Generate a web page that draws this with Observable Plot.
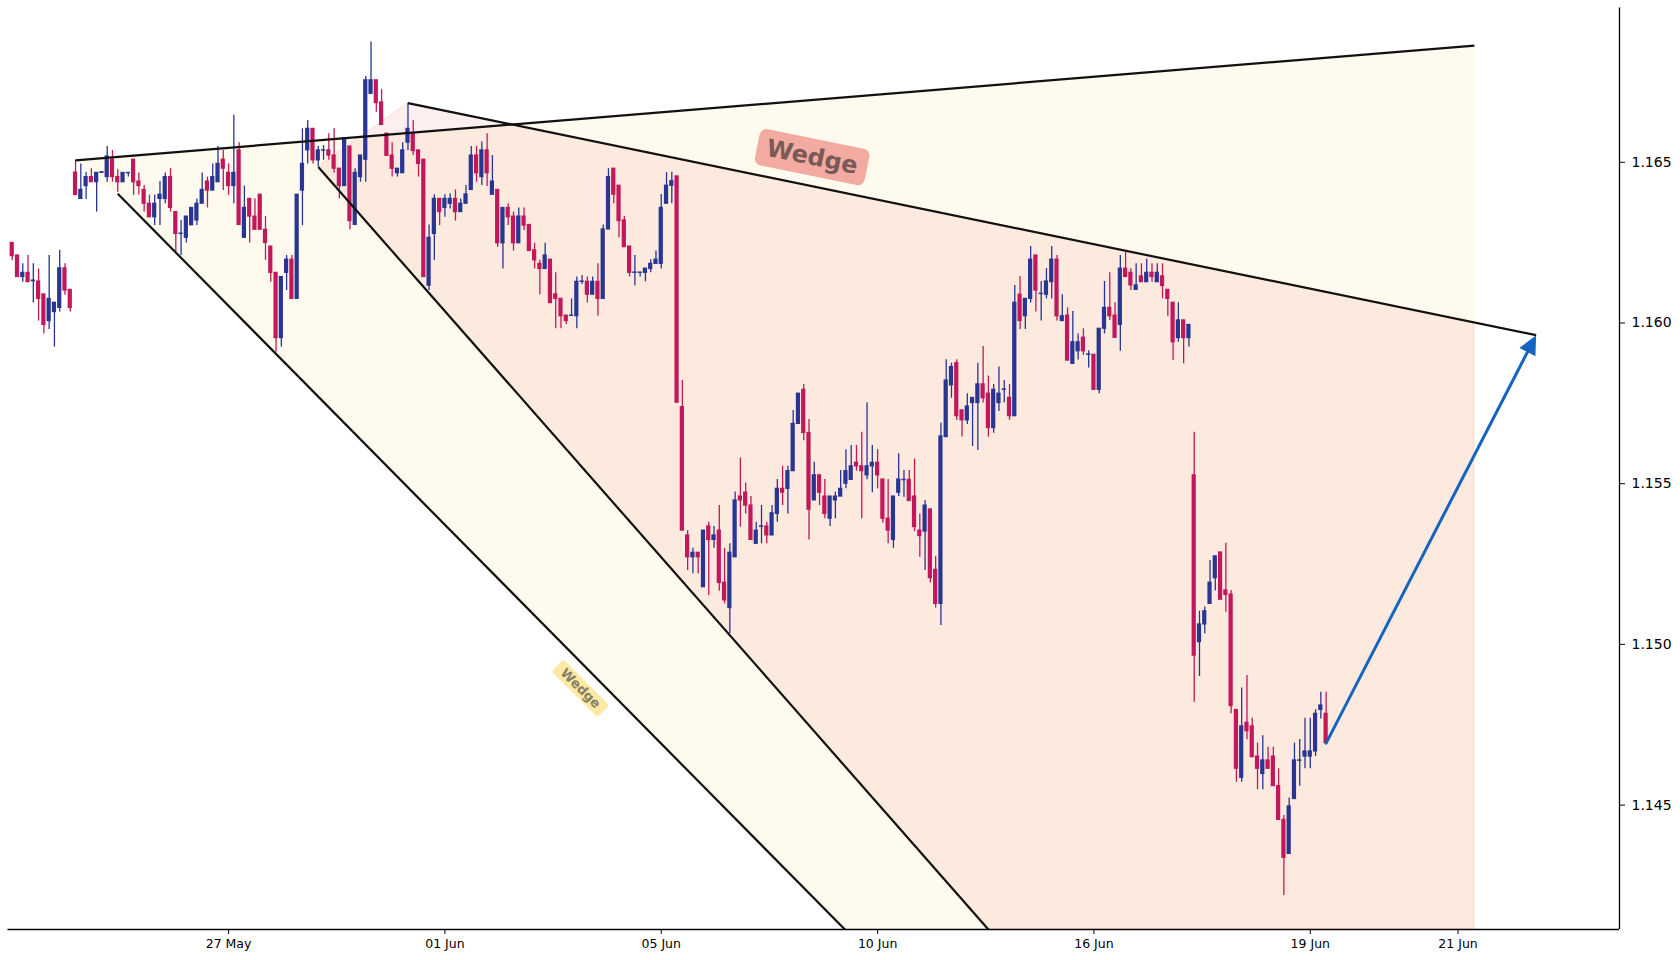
<!DOCTYPE html>
<html><head><meta charset="utf-8">
<script src="https://cdn.jsdelivr.net/npm/d3@7"></script>
<script src="https://cdn.jsdelivr.net/npm/@observablehq/plot@0.6"></script>
<style>
html,body{margin:0;padding:0;background:#fff;}
#chart{width:1680px;height:960px;overflow:hidden;}
</style></head><body><div id="chart"></div>
<script>
const opens = [
1.16249,1.16210,1.16143,1.16156,1.16130,1.16129,1.16089,1.16006,1.16034,1.16047,
1.16170,1.16103,1.16468,1.16386,1.16426,1.16454,1.16438,1.16467,1.16454,1.16508,
1.16454,1.16438,1.16466,1.16508,1.16440,1.16414,1.16371,1.16329,1.16386,1.16386,
1.16454,1.16345,1.16277,1.16265,1.16304,1.16319,1.16371,1.16440,1.16412,1.16438,
1.16508,1.16467,1.16426,1.16537,1.16265,1.16386,1.16331,1.16399,1.16290,1.16238,
1.16156,1.15953,1.16156,1.16197,1.16075,1.16412,1.16537,1.16604,1.16506,1.16536,
1.16537,1.16521,1.16480,1.16426,1.16549,1.16305,1.16454,1.16508,1.16713,1.16755,
1.16686,1.16589,1.16521,1.16466,1.16466,1.16561,1.16589,1.16537,1.16508,1.16116,
1.16277,1.16386,1.16358,1.16371,1.16386,1.16345,1.16371,1.16414,1.16521,1.16454,
1.16537,1.16399,1.16414,1.16248,1.16358,1.16331,1.16248,1.16331,1.16305,1.16226,
1.16184,1.16168,1.16197,1.16089,1.16075,1.16023,1.16022,1.16021,1.16128,1.16128,
1.16088,1.16128,1.16075,1.16291,1.16480,1.16427,1.16319,1.16238,1.16156,1.16156,
1.16156,1.16168,1.16184,1.16184,1.16371,1.16427,1.16456,1.15738,1.15339,1.15271,
1.15285,1.15178,1.15367,1.15325,1.15354,1.15192,1.15113,1.15271,1.15460,1.15472,
1.15432,1.15313,1.15366,1.15367,1.15339,1.15406,1.15484,1.15484,1.15539,1.15686,
1.15792,1.15658,1.15448,1.15526,1.15460,1.15391,1.15448,1.15460,1.15500,1.15512,
1.15565,1.15554,1.15526,1.15554,1.15565,1.15513,1.15391,1.15325,1.15472,1.15511,
1.15512,1.15460,1.15354,1.15351,1.15420,1.15232,1.15126,1.15645,1.15806,1.15875,
1.15728,1.15697,1.15751,1.15751,1.15809,1.15780,1.15673,1.15751,1.15792,1.15767,
1.15710,1.16088,1.16021,1.16075,1.16210,1.16090,1.16088,1.16127,1.16197,1.16006,
1.16023,1.15873,1.15912,1.15954,1.15901,1.15901,1.15792,1.15982,1.16047,1.16023,
1.15994,1.16169,1.16156,1.16103,1.16145,1.16127,1.16156,1.16127,1.16145,1.16103,
1.16063,1.15953,1.16008,1.15953,1.15526,1.15007,1.15062,1.15126,1.15206,1.15286,
1.15168,1.15155,1.14796,1.14585,1.14756,1.14745,1.14651,1.14597,1.14639,1.14651,
1.14559,1.14454,1.14348,1.14519,1.14638,1.14651,1.14651,1.14667,1.14796,1.14784];
const highs = [
1.16249,1.16210,1.16184,1.16210,1.16184,1.16168,1.16089,1.16210,1.16063,1.16226,
1.16184,1.16103,1.16506,1.16495,1.16469,1.16480,1.16467,1.16470,1.16549,1.16537,
1.16477,1.16467,1.16467,1.16508,1.16467,1.16428,1.16398,1.16398,1.16440,1.16467,
1.16480,1.16345,1.16319,1.16331,1.16358,1.16386,1.16467,1.16454,1.16495,1.16549,
1.16537,1.16495,1.16646,1.16561,1.16426,1.16386,1.16386,1.16399,1.16331,1.16238,
1.16156,1.16143,1.16210,1.16210,1.16399,1.16604,1.16630,1.16604,1.16549,1.16552,
1.16589,1.16604,1.16480,1.16575,1.16549,1.16480,1.16521,1.16767,1.16874,1.16755,
1.16726,1.16589,1.16561,1.16480,1.16561,1.16684,1.16630,1.16537,1.16508,1.16305,
1.16399,1.16386,1.16399,1.16402,1.16414,1.16386,1.16428,1.16549,1.16549,1.16563,
1.16589,1.16521,1.16414,1.16358,1.16371,1.16345,1.16358,1.16358,1.16305,1.16248,
1.16195,1.16248,1.16197,1.16156,1.16075,1.16023,1.16075,1.16143,1.16148,1.16143,
1.16143,1.16184,1.16305,1.16480,1.16480,1.16427,1.16331,1.16238,1.16210,1.16157,
1.16169,1.16197,1.16224,1.16400,1.16468,1.16469,1.16456,1.15821,1.15354,1.15299,
1.15285,1.15354,1.15380,1.15367,1.15432,1.15299,1.15313,1.15474,1.15580,1.15502,
1.15460,1.15380,1.15432,1.15380,1.15432,1.15513,1.15554,1.15554,1.15728,1.15780,
1.15809,1.15700,1.15567,1.15526,1.15513,1.15460,1.15474,1.15541,1.15606,1.15619,
1.15619,1.15660,1.15752,1.15619,1.15606,1.15513,1.15513,1.15460,1.15593,1.15541,
1.15541,1.15577,1.15406,1.15448,1.15420,1.15274,1.15688,1.15886,1.15875,1.15886,
1.15728,1.15780,1.15767,1.15875,1.15927,1.15835,1.15809,1.15863,1.15821,1.15809,
1.16117,1.16145,1.16075,1.16238,1.16210,1.16129,1.16169,1.16238,1.16210,1.16088,
1.16047,1.16036,1.15966,1.15982,1.15914,1.15901,1.15982,1.16129,1.16156,1.16063,
1.16210,1.16220,1.16169,1.16184,1.16184,1.16198,1.16184,1.16184,1.16184,1.16103,
1.16063,1.16063,1.16008,1.15994,1.15660,1.15103,1.15116,1.15261,1.15274,1.15286,
1.15315,1.15168,1.14796,1.14864,1.14903,1.14770,1.14693,1.14716,1.14680,1.14680,
1.14613,1.14468,1.14522,1.14693,1.14704,1.14770,1.14770,1.14797,1.14851,1.14851];
const lows = [
1.16194,1.16143,1.16127,1.16127,1.16062,1.16006,1.15966,1.15980,1.15925,1.16034,
1.16086,1.16034,1.16398,1.16386,1.16384,1.16438,1.16345,1.16466,1.16438,1.16438,
1.16407,1.16438,1.16454,1.16397,1.16398,1.16345,1.16329,1.16303,1.16303,1.16371,
1.16345,1.16220,1.16210,1.16249,1.16304,1.16303,1.16371,1.16358,1.16412,1.16438,
1.16412,1.16397,1.16371,1.16305,1.16265,1.16249,1.16290,1.16290,1.16195,1.16127,
1.15909,1.15925,1.16101,1.16075,1.16075,1.16303,1.16495,1.16495,1.16485,1.16506,
1.16506,1.16466,1.16386,1.16426,1.16290,1.16305,1.16438,1.16438,1.16713,1.16656,
1.16616,1.16520,1.16454,1.16454,1.16466,1.16537,1.16521,1.16454,1.16143,1.16101,
1.16195,1.16303,1.16329,1.16355,1.16317,1.16345,1.16371,1.16414,1.16438,1.16428,
1.16425,1.16399,1.16236,1.16168,1.16303,1.16224,1.16248,1.16288,1.16224,1.16168,
1.16088,1.16168,1.16062,1.15982,1.15982,1.15995,1.16021,1.15982,1.16120,1.16062,
1.16088,1.16021,1.16075,1.16291,1.16371,1.16265,1.16236,1.16143,1.16115,1.16143,
1.16128,1.16156,1.16184,1.16168,1.16371,1.16371,1.15752,1.15354,1.15230,1.15220,
1.15220,1.15178,1.15152,1.15299,1.15165,1.15126,1.15033,1.15271,1.15365,1.15406,
1.15325,1.15313,1.15313,1.15313,1.15339,1.15380,1.15432,1.15406,1.15539,1.15686,
1.15634,1.15325,1.15448,1.15432,1.15391,1.15367,1.15391,1.15460,1.15484,1.15512,
1.15539,1.15391,1.15512,1.15472,1.15484,1.15377,1.15313,1.15299,1.15460,1.15458,
1.15446,1.15351,1.15271,1.15230,1.15191,1.15113,1.15059,1.15645,1.15766,1.15697,
1.15645,1.15684,1.15616,1.15603,1.15751,1.15645,1.15657,1.15725,1.15751,1.15697,
1.15710,1.15980,1.15980,1.16062,1.16034,1.16006,1.16075,1.16075,1.16006,1.16006,
1.15883,1.15873,1.15885,1.15899,1.15860,1.15792,1.15780,1.15966,1.16008,1.15954,
1.15912,1.16143,1.16101,1.16103,1.16127,1.16127,1.16127,1.16127,1.16075,1.16020,
1.15883,1.15940,1.15873,1.15925,1.14820,1.14900,1.15033,1.15126,1.15166,1.15139,
1.15100,1.14784,1.14571,1.14571,1.14703,1.14649,1.14548,1.14548,1.14613,1.14559,
1.14454,1.14219,1.14348,1.14519,1.14559,1.14613,1.14613,1.14651,1.14768,1.14693];
const closes = [
1.16208,1.16143,1.16156,1.16127,1.16132,1.16075,1.15994,1.16075,1.16063,1.16170,
1.16101,1.16047,1.16398,1.16414,1.16454,1.16438,1.16467,1.16469,1.16518,1.16454,
1.16438,1.16467,1.16467,1.16438,1.16426,1.16371,1.16329,1.16371,1.16399,1.16454,
1.16358,1.16277,1.16278,1.16331,1.16358,1.16371,1.16414,1.16412,1.16454,1.16495,
1.16480,1.16426,1.16467,1.16305,1.16358,1.16331,1.16290,1.16290,1.16249,1.16156,
1.15953,1.16143,1.16197,1.16075,1.16399,1.16495,1.16604,1.16506,1.16537,1.16537,
1.16521,1.16480,1.16426,1.16575,1.16317,1.16467,1.16521,1.16755,1.16755,1.16684,
1.16616,1.16520,1.16480,1.16480,1.16537,1.16604,1.16535,1.16495,1.16143,1.16265,
1.16386,1.16345,1.16386,1.16386,1.16345,1.16371,1.16400,1.16521,1.16466,1.16537,
1.16466,1.16440,1.16248,1.16358,1.16329,1.16248,1.16331,1.16303,1.16224,1.16195,
1.16168,1.16210,1.16062,1.16075,1.16021,1.16006,1.16023,1.16128,1.16129,1.16088,
1.16128,1.16075,1.16291,1.16454,1.16399,1.16317,1.16236,1.16156,1.16157,1.16157,
1.16169,1.16184,1.16197,1.16358,1.16427,1.16441,1.15752,1.15354,1.15271,1.15285,
1.15271,1.15354,1.15325,1.15339,1.15191,1.15137,1.15285,1.15448,1.15448,1.15432,
1.15325,1.15354,1.15367,1.15339,1.15408,1.15484,1.15472,1.15539,1.15686,1.15780,
1.15658,1.15419,1.15526,1.15472,1.15406,1.15460,1.15460,1.15484,1.15539,1.15554,
1.15554,1.15539,1.15554,1.15565,1.15526,1.15391,1.15354,1.15460,1.15513,1.15512,
1.15446,1.15365,1.15337,1.15432,1.15206,1.15126,1.15647,1.15821,1.15863,1.15710,
1.15697,1.15740,1.15767,1.15809,1.15766,1.15673,1.15792,1.15780,1.15793,1.15710,
1.16063,1.16006,1.16075,1.16197,1.16101,1.16091,1.16129,1.16197,1.16021,1.16021,
1.15883,1.15940,1.15940,1.15912,1.15902,1.15792,1.15982,1.16047,1.16021,1.15954,
1.16169,1.16143,1.16117,1.16117,1.16127,1.16156,1.16143,1.16156,1.16115,1.16075,
1.15940,1.16008,1.15953,1.15994,1.14965,1.15062,1.15103,1.15192,1.15274,1.15139,
1.15154,1.14808,1.14613,1.14745,1.14730,1.14649,1.14613,1.14639,1.14613,1.14559,
1.14454,1.14336,1.14496,1.14639,1.14639,1.14667,1.14667,1.14784,1.14810,1.14693];

// x axis: bar index -> date labels
const tickIndex = [41, 82, 123, 164, 205, 246, 274];
const tickLabels = ["27 May", "01 Jun", "05 Jun", "10 Jun", "16 Jun", "19 Jun", "21 Jun"];
const priceTicks = [1.145, 1.150, 1.155, 1.160, 1.165];
const xDomain = [-0.8, 304.6];
const yDomain = [1.14113, 1.16980];

// wedge annotation anchors [bar index, price]
const outerUpper = [[12, 1.16506], [277.1, 1.16863]];
const outerLower = [[20, 1.16402], [157.8, 1.14113]];
const innerUpper = [[75, 1.16684], [288.8, 1.15962]];
const innerLower = [[58, 1.16485], [185.0, 1.14113]];
const fillEnd = 277.1;
const arrowStart = [249, 1.14693];
const arrowEnd = [288.8, 1.15962];
const labelTexts = ["Wedge", "Wedge"];
const labelIndex = [151.6, 107.7];
const labelPrice = [1.16516, 1.14863];

const UP = "#283593", DOWN = "#c2185b";

const candles = opens.map((o, i) => ({i, o, h: highs[i], l: lows[i], c: closes[i]}));
const ups = candles.filter(d => d.c >= d.o);
const downs = candles.filter(d => d.c < d.o);

const at = (line, x) => {
  const [[x0, y0], [x1, y1]] = line;
  return y0 + (y1 - y0) * (x - x0) / (x1 - x0);
};
const yMin = yDomain[0];
const yellowArea = [
  {x: outerUpper[0][0], y1: outerUpper[0][1], y2: outerUpper[0][1]},
  {x: outerLower[0][0], y1: outerLower[0][1], y2: at(outerUpper, outerLower[0][0])},
  {x: outerLower[1][0], y1: yMin, y2: at(outerUpper, outerLower[1][0])},
  {x: fillEnd, y1: yMin, y2: at(outerUpper, fillEnd)}
];
const pinkArea = [
  {x: innerLower[0][0], y1: innerLower[0][1], y2: innerLower[0][1]},
  {x: innerUpper[0][0], y1: at(innerLower, innerUpper[0][0]), y2: innerUpper[0][1]},
  {x: innerLower[1][0], y1: yMin, y2: at(innerUpper, innerLower[1][0])},
  {x: fillEnd, y1: yMin, y2: at(innerUpper, fillEnd)}
];
const segs = [outerUpper, outerLower, innerUpper, innerLower].map(([[a, b], [c, d]]) => ({x1: a, y1: b, x2: c, y2: d}));

function roundedRect(w, h, r, deg) {
  const a = deg * Math.PI / 180, cs = Math.cos(a), sn = Math.sin(a);
  const rot = ([x, y]) => [x * cs - y * sn, x * sn + y * cs];
  return {draw(ctx) {
    const p = [[-w/2, -h/2], [w/2, -h/2], [w/2, h/2], [-w/2, h/2]].map(rot);
    ctx.moveTo((p[0][0] + p[1][0]) / 2, (p[0][1] + p[1][1]) / 2);
    for (let k = 1; k <= 4; k++) {
      const q = p[k % 4], s = p[(k + 1) % 4];
      ctx.arcTo(q[0], q[1], s[0], s[1], r);
    }
    ctx.closePath();
  }};
}
function arrowHead(len, half, deg) {
  const a = deg * Math.PI / 180, ux = Math.sin(a), uy = -Math.cos(a);
  const nx = Math.cos(a), ny = Math.sin(a);
  return {draw(ctx) {
    const bx = -len * ux, by = -len * uy;
    ctx.moveTo(0, 0);
    ctx.lineTo(bx + half * nx, by + half * ny);
    ctx.lineTo(bx - half * nx, by - half * ny);
    ctx.closePath();
  }};
}
const labels = labelTexts.map((t, k) => ({t, i: labelIndex[k], p: labelPrice[k]}));

const chart = Plot.plot({
  width: 1680, height: 960,
  marginLeft: 7.5, marginRight: 61, marginTop: 7.5, marginBottom: 31,
  style: {fontFamily: "DejaVu Sans", fontSize: "14px", background: "white", color: "black"},
  x: {type: "linear", domain: xDomain, ticks: tickIndex, tickFormat: d => tickLabels[tickIndex.indexOf(d)], label: null, tickSize: 5, tickPadding: 5},
  y: {type: "linear", domain: yDomain, axis: "right", ticks: priceTicks, tickFormat: d3.format(".3f"), label: null, tickSize: 5, tickPadding: 7},
  marks: [
    Plot.areaY(yellowArea, {x: "x", y1: "y1", y2: "y2", curve: "linear", fill: "#fbe39a", fillOpacity: 0.18, stroke: "#fbe39a", strokeOpacity: 0.18, strokeWidth: 1.5}),
    Plot.areaY(pinkArea, {x: "x", y1: "y1", y2: "y2", curve: "linear", fill: "#f09696", fillOpacity: 0.15, stroke: "#f09696", strokeOpacity: 0.15, strokeWidth: 1.5}),
    Plot.ruleX(ups, {x: "i", y1: "l", y2: "h", stroke: UP, strokeWidth: 1.3}),
    Plot.ruleX(downs, {x: "i", y1: "l", y2: "h", stroke: DOWN, strokeWidth: 1.3}),
    Plot.rect(ups, {x1: d => d.i - 0.4, x2: d => d.i + 0.4, y1: "o", y2: "c", fill: UP, insetTop: -0.6, insetBottom: -0.6}),
    Plot.rect(downs, {x1: d => d.i - 0.4, x2: d => d.i + 0.4, y1: "c", y2: "o", fill: DOWN, insetTop: -0.6, insetBottom: -0.6}),
    Plot.link(segs, {x1: "x1", y1: "y1", x2: "x2", y2: "y2", stroke: "#111", strokeWidth: 2.2}),
    Plot.arrow([{x1: arrowStart[0], y1: arrowStart[1], x2: arrowEnd[0], y2: arrowEnd[1]}], {x1: "x1", y1: "y1", x2: "x2", y2: "y2", stroke: "#1565c0", strokeWidth: 3, headLength: 0, insetEnd: 12}),
    Plot.dot([{x: arrowEnd[0], y: arrowEnd[1]}], {x: "x", y: "y", symbol: arrowHead(19, 9, 27.3), fill: "#1565c0", stroke: "none"}),
    Plot.dot([labels[0]], {x: "i", y: "p", symbol: roundedRect(112, 37, 7, 11.5), fill: "#f3aba1", stroke: "none"}),
    Plot.text([labels[0]], {x: "i", y: "p", text: "t", rotate: 11.5, fontSize: 24, fontWeight: "bold", fill: "#7a5a58"}),
    Plot.dot([labels[1]], {x: "i", y: "p", symbol: roundedRect(65, 17, 4, 45), fill: "#fce9a3", stroke: "none"}),
    Plot.text([labels[1]], {x: "i", y: "p", text: "t", rotate: 45, fontSize: 13, fontWeight: "bold", fill: "#857e68"}),
    Plot.ruleY([yDomain[0]], {stroke: "#000", strokeWidth: 1.3}),
    Plot.ruleX([xDomain[1]], {stroke: "#000", strokeWidth: 1.3})
  ]
});
document.getElementById("chart").appendChild(chart);
d3.select(chart).selectAll('g[aria-label^="x-axis"] text').attr("font-size", "12.5px");
</script>
</body></html>
